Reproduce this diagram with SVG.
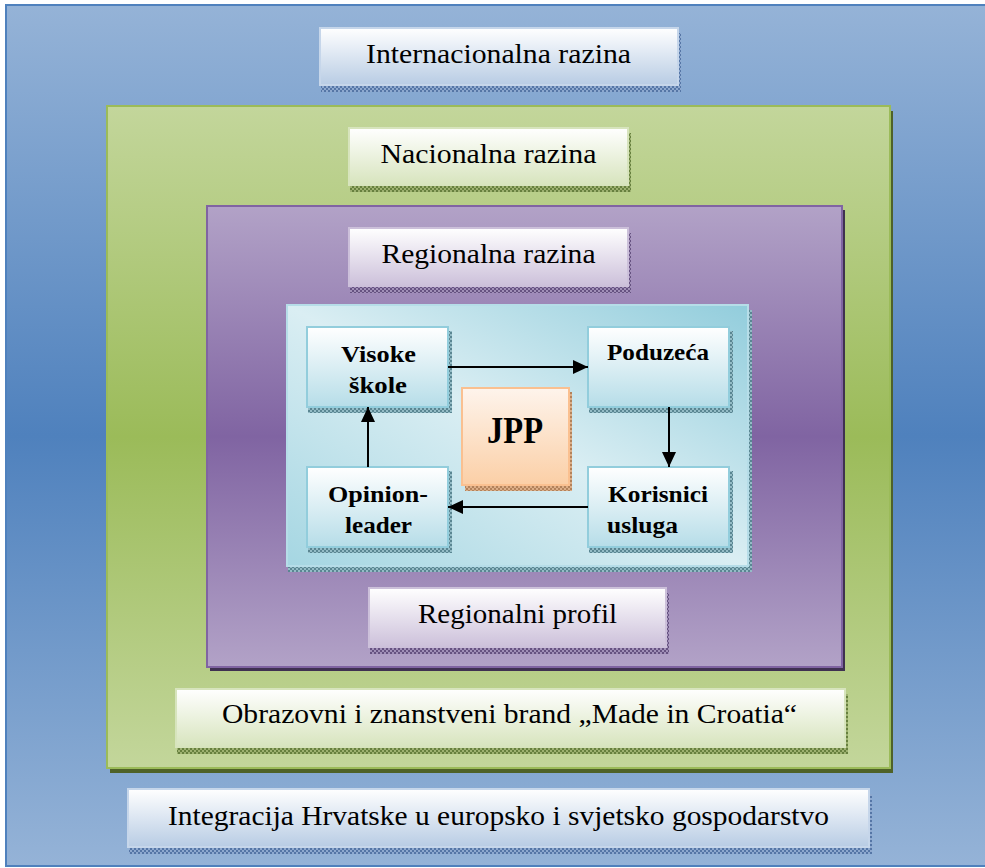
<svg xmlns="http://www.w3.org/2000/svg" width="985" height="868" viewBox="0 0 985 868">
<style>
.lbl{font-family:"Liberation Serif","DejaVu Serif",serif;font-size:27px;fill:#000;text-anchor:middle}
.in{font-family:"Liberation Serif","DejaVu Serif",serif;font-size:24px;font-weight:bold;fill:#000;text-anchor:middle}
.jpp{font-family:"Liberation Serif","DejaVu Serif",serif;font-size:37px;font-weight:bold;fill:#000;text-anchor:middle}
.conn{stroke:#000;stroke-width:2;fill:none}
</style>
<defs>
<linearGradient id="gBlue" x1="0" y1="0" x2="0" y2="1">
<stop offset="0" stop-color="#95b3d7"/><stop offset="0.5" stop-color="#4f81bd"/><stop offset="1" stop-color="#95b3d7"/>
</linearGradient>
<linearGradient id="gGreen" x1="0" y1="0" x2="0" y2="1">
<stop offset="0" stop-color="#c3d69b"/><stop offset="0.5" stop-color="#9bbb59"/><stop offset="1" stop-color="#c3d69b"/>
</linearGradient>
<linearGradient id="gPurple" x1="0" y1="0" x2="0" y2="1">
<stop offset="0" stop-color="#b2a2c7"/><stop offset="0.5" stop-color="#8064a2"/><stop offset="1" stop-color="#b2a2c7"/>
</linearGradient>
<linearGradient id="gCyan" x1="1" y1="0" x2="0" y2="1">
<stop offset="0" stop-color="#92cddc"/><stop offset="0.5" stop-color="#daeef3"/><stop offset="1" stop-color="#a5d6e2"/>
</linearGradient>
<linearGradient id="lBlue" x1="0" y1="0" x2="0" y2="1">
<stop offset="0" stop-color="#ffffff"/><stop offset="1" stop-color="#b8cce4"/>
</linearGradient>
<linearGradient id="lGreen" x1="0" y1="0" x2="0" y2="1">
<stop offset="0" stop-color="#ffffff"/><stop offset="1" stop-color="#d7e4bd"/>
</linearGradient>
<linearGradient id="lPurple" x1="0" y1="0" x2="0" y2="1">
<stop offset="0" stop-color="#ffffff"/><stop offset="1" stop-color="#ccc0da"/>
</linearGradient>
<linearGradient id="lCyan" x1="0" y1="0" x2="0" y2="1">
<stop offset="0" stop-color="#ffffff"/><stop offset="1" stop-color="#b6dde8"/>
</linearGradient>
<linearGradient id="lOrange" x1="0" y1="0" x2="0" y2="1">
<stop offset="0" stop-color="#fef4ec"/><stop offset="1" stop-color="#fbcfa6"/>
</linearGradient>
<pattern id="pBlue" width="4" height="4" patternUnits="userSpaceOnUse"><rect width="4" height="4" fill="#5576a6"/><rect width="2" height="2" fill="#8ea9cf"/><rect x="2" y="2" width="2" height="2" fill="#8ea9cf"/></pattern>
<pattern id="pGreen" width="4" height="4" patternUnits="userSpaceOnUse"><rect width="4" height="4" fill="#66803e"/><rect width="2" height="2" fill="#9db170"/><rect x="2" y="2" width="2" height="2" fill="#9db170"/></pattern>
<pattern id="pPurple" width="4" height="4" patternUnits="userSpaceOnUse"><rect width="4" height="4" fill="#665281"/><rect width="2" height="2" fill="#a190b8"/><rect x="2" y="2" width="2" height="2" fill="#a190b8"/></pattern>
<pattern id="pTeal" width="4" height="4" patternUnits="userSpaceOnUse"><rect width="4" height="4" fill="#5a8692"/><rect width="2" height="2" fill="#94bcc6"/><rect x="2" y="2" width="2" height="2" fill="#94bcc6"/></pattern>
<pattern id="pOrange" width="4" height="4" patternUnits="userSpaceOnUse"><rect width="4" height="4" fill="#b3825a"/><rect width="2" height="2" fill="#dcae88"/><rect x="2" y="2" width="2" height="2" fill="#dcae88"/></pattern>
<marker id="arr" markerUnits="userSpaceOnUse" markerWidth="15" markerHeight="14" refX="15" refY="7" orient="auto">
<path d="M0,0 L15,7 L0,14 z" fill="#000"/>
</marker>
</defs>
<rect width="985" height="868" fill="#ffffff"/>

<g id="level-internacionalna">
<rect x="6" y="5" width="982" height="861" fill="url(#gBlue)" stroke="#4f81bd" stroke-width="2"/>
</g>
<g id="label-internacionalna">
<rect x="321" y="33" width="360" height="59" fill="url(#pBlue)"/>
<rect x="320" y="28" width="358" height="57" fill="url(#lBlue)" stroke="#c6d6ea" stroke-width="2"/>
<text class="lbl" x="498.5" y="63" textLength="265" lengthAdjust="spacingAndGlyphs">Internacionalna razina</text>
</g>

<g id="level-nacionalna">
<rect x="110" y="111" width="783" height="662" fill="#4f6228"/>
<rect x="107" y="106" width="783" height="662" fill="url(#gGreen)" stroke="#9bbb59" stroke-width="2"/>
</g>
<g id="label-nacionalna">
<rect x="350" y="133" width="281" height="59" fill="url(#pGreen)"/>
<rect x="349" y="128" width="279" height="57" fill="url(#lGreen)" stroke="#d7e4bd" stroke-width="2"/>
<text class="lbl" x="488.5" y="163" textLength="216" lengthAdjust="spacingAndGlyphs">Nacionalna razina</text>
</g>

<g id="level-regionalna">
<rect x="210" y="210" width="635" height="461" fill="#3f3151"/>
<rect x="207" y="206" width="635" height="461" fill="url(#gPurple)" stroke="#8064a2" stroke-width="2"/>
</g>
<g id="label-regionalna">
<rect x="350" y="233" width="281" height="60" fill="url(#pPurple)"/>
<rect x="349" y="228" width="279" height="58" fill="url(#lPurple)" stroke="#ccc0da" stroke-width="2"/>
<text class="lbl" x="488.5" y="263" textLength="214" lengthAdjust="spacingAndGlyphs">Regionalna razina</text>
</g>

<g id="jpp-area">
<rect x="288" y="310" width="464" height="262" fill="url(#pTeal)"/>
<rect x="287" y="305" width="461" height="261" fill="url(#gCyan)" stroke="#b6dde8" stroke-width="2"/>
</g>

<g id="node-visoke">
<rect x="308" y="331" width="144" height="82" fill="url(#pTeal)"/>
<rect x="307" y="327" width="141" height="80" fill="url(#lCyan)" stroke="#92cddc" stroke-width="2"/>
<text class="in" x="378.5" y="362" textLength="75" lengthAdjust="spacingAndGlyphs">Visoke</text>
<text class="in" x="378" y="393" textLength="58" lengthAdjust="spacingAndGlyphs">škole</text>
</g>
<g id="node-poduzeca">
<rect x="589" y="331" width="144" height="82" fill="url(#pTeal)"/>
<rect x="588" y="327" width="141" height="80" fill="url(#lCyan)" stroke="#92cddc" stroke-width="2"/>
<text class="in" x="658" y="360" textLength="102" lengthAdjust="spacingAndGlyphs">Poduzeća</text>
</g>
<g id="node-opinion">
<rect x="308" y="471" width="144" height="82" fill="url(#pTeal)"/>
<rect x="307" y="467" width="141" height="80" fill="url(#lCyan)" stroke="#92cddc" stroke-width="2"/>
<text class="in" x="378" y="502" textLength="100" lengthAdjust="spacingAndGlyphs">Opinion-</text>
<text class="in" x="378.5" y="533" textLength="67" lengthAdjust="spacingAndGlyphs">leader</text>
</g>
<g id="node-korisnici">
<rect x="589" y="471" width="144" height="82" fill="url(#pTeal)"/>
<rect x="588" y="467" width="141" height="80" fill="url(#lCyan)" stroke="#92cddc" stroke-width="2"/>
<text class="in" x="658" y="502" textLength="100" lengthAdjust="spacingAndGlyphs">Korisnici</text>
<text class="in" x="607" y="533" textLength="71" lengthAdjust="spacingAndGlyphs" style="text-anchor:start">usluga</text>
</g>
<g id="node-jpp">
<rect x="465" y="392" width="107" height="99" fill="url(#pOrange)"/>
<rect x="462" y="388" width="107" height="97" fill="url(#lOrange)" stroke="#fac090" stroke-width="2"/>
<text class="jpp" x="515" y="443" textLength="56" lengthAdjust="spacingAndGlyphs">JPP</text>
</g>

<g id="connectors">
<line class="conn" x1="448" y1="367" x2="588" y2="367" marker-end="url(#arr)"/>
<line class="conn" x1="669" y1="407" x2="669" y2="467" marker-end="url(#arr)"/>
<line class="conn" x1="588" y1="507" x2="448" y2="507" marker-end="url(#arr)"/>
<line class="conn" x1="368" y1="467" x2="368" y2="407" marker-end="url(#arr)"/>
</g>

<g id="label-profil">
<rect x="370" y="593" width="299" height="61" fill="url(#pPurple)"/>
<rect x="369" y="588" width="297" height="59" fill="url(#lPurple)" stroke="#ccc0da" stroke-width="2"/>
<text class="lbl" x="517.5" y="623" textLength="199" lengthAdjust="spacingAndGlyphs">Regionalni profil</text>
</g>

<g id="label-brand">
<rect x="177" y="694" width="671" height="60" fill="url(#pGreen)"/>
<rect x="176" y="689" width="669" height="58" fill="url(#lGreen)" stroke="#d7e4bd" stroke-width="2"/>
<text class="lbl" x="509.5" y="723" textLength="575" lengthAdjust="spacingAndGlyphs">Obrazovni i znanstveni brand „Made in Croatia“</text>
</g>

<g id="label-integracija">
<rect x="129" y="794" width="743" height="60" fill="url(#pBlue)"/>
<rect x="128" y="789" width="741" height="58" fill="url(#lBlue)" stroke="#c6d6ea" stroke-width="2"/>
<text class="lbl" x="498.5" y="825" textLength="661" lengthAdjust="spacingAndGlyphs">Integracija Hrvatske u europsko i svjetsko gospodarstvo</text>
</g>
</svg>
